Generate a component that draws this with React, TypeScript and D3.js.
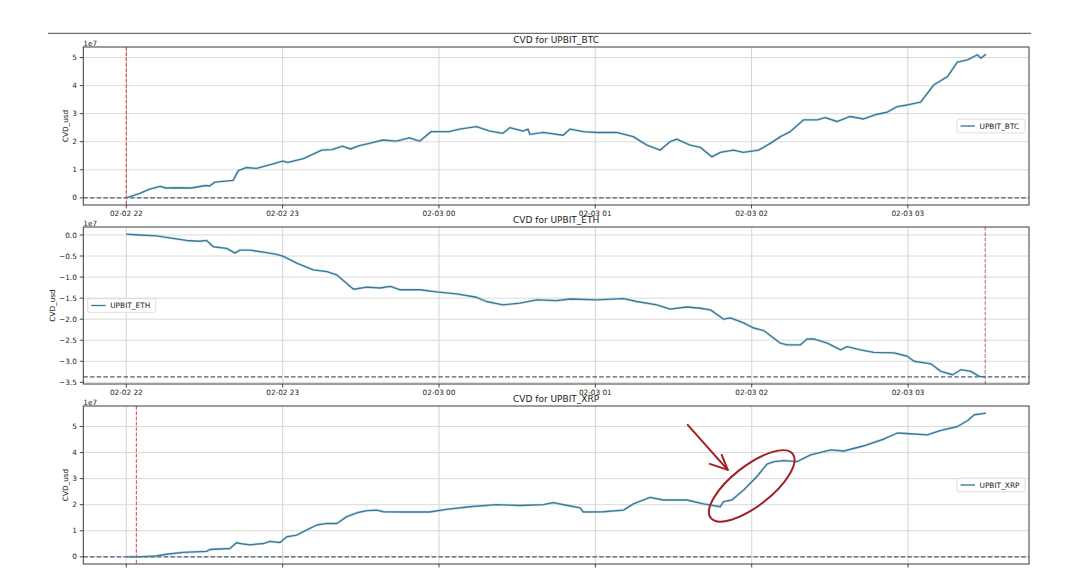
import { useEffect, useRef } from "react";
import * as d3 from "d3";

// CVD series, [minutes after 02-02 22:00, value in 1e7 usd]
const btcCvd: [number, number][] = [
  [0, 0], [5, 0.15], [8.7, 0.3], [13, 0.41], [15, 0.35], [20, 0.36], [25, 0.35], [30.5, 0.44],
  [32, 0.42], [34, 0.56], [41, 0.62], [43, 0.97], [46, 1.08], [50, 1.05], [56, 1.2], [60, 1.31],
  [62, 1.26], [68, 1.4], [71.5, 1.55], [75, 1.7], [79, 1.72], [83, 1.84], [86, 1.74], [89.5, 1.86],
  [93.3, 1.94], [98.5, 2.06], [103.6, 2.02], [108.7, 2.14], [112.6, 2.02], [117, 2.36], [124, 2.36],
  [128, 2.45], [134.4, 2.54], [139.5, 2.38], [144.6, 2.3], [147.2, 2.5], [152.3, 2.38], [154.2, 2.45],
  [154.9, 2.26], [160, 2.33], [167.7, 2.23], [170.3, 2.45], [175.4, 2.36], [180.5, 2.33], [188.2, 2.33],
  [194.6, 2.18], [199.8, 1.88], [204.9, 1.7], [208.7, 2.0], [211.3, 2.09], [216.4, 1.88], [220.3, 1.8],
  [224.8, 1.46], [228, 1.62], [233, 1.7], [236.9, 1.62], [242.7, 1.7], [247.2, 1.94], [251.1, 2.18],
  [254.9, 2.36], [260, 2.78], [265.2, 2.78], [268.3, 2.86], [272.8, 2.72], [277.9, 2.9], [283, 2.81],
  [288.2, 2.98], [292, 3.05], [295.9, 3.25], [299.8, 3.31], [304.9, 3.41], [310, 4.03], [315.2, 4.32],
  [319, 4.84], [322.9, 4.92], [326.7, 5.1], [328, 4.98], [330, 5.12],
];

const ethCvd: [number, number][] = [
  [0, 0.02], [5, 0], [11.5, -0.02], [17.9, -0.08], [23.1, -0.13], [28.2, -0.15], [30.8, -0.13],
  [33.4, -0.28], [38.5, -0.32], [41.7, -0.43], [43.6, -0.36], [47.5, -0.36], [53.9, -0.42],
  [57.7, -0.46], [60.3, -0.51], [65.4, -0.67], [71.8, -0.83], [77, -0.87], [80.8, -0.95],
  [87.2, -1.29], [92.3, -1.24], [97.4, -1.26], [101.3, -1.22], [104.9, -1.3], [112.6, -1.3],
  [119, -1.35], [126.7, -1.4], [134.4, -1.48], [138.2, -1.58], [144.6, -1.66], [151, -1.62],
  [157.5, -1.54], [165.1, -1.56], [170.3, -1.52], [180.5, -1.54], [190.8, -1.51], [195.9, -1.58],
  [203.6, -1.66], [208.7, -1.76], [215.1, -1.71], [220.3, -1.74], [224.2, -1.78], [229.2, -2.0],
  [231.8, -1.97], [236.9, -2.09], [240.8, -2.21], [244.6, -2.27], [251, -2.57], [253.6, -2.61],
  [258.7, -2.61], [261.2, -2.47], [263.8, -2.47], [269, -2.57], [274.1, -2.73], [276.6, -2.65],
  [281.8, -2.73], [286.9, -2.79], [294.6, -2.8], [299.7, -2.88], [302.3, -3.0], [308.7, -3.06],
  [312.6, -3.24], [317.1, -3.32], [320.3, -3.2], [324.1, -3.24], [327.3, -3.36], [329.9, -3.37],
];

const xrpCvd: [number, number][] = [
  [0, 0], [5, 0], [11.5, 0.03], [15.4, 0.1], [21.8, 0.17], [30.8, 0.21], [32, 0.28], [39.7, 0.32],
  [42.3, 0.54], [44.9, 0.49], [47.4, 0.46], [52.6, 0.51], [55.1, 0.59], [59, 0.55], [61.6, 0.77],
  [65.4, 0.83], [69.3, 1.03], [73.1, 1.22], [77, 1.28], [80.8, 1.28], [84.6, 1.54], [88.5, 1.69],
  [92.3, 1.77], [96.2, 1.79], [98.7, 1.73], [106.2, 1.72], [116.4, 1.72], [122.8, 1.82],
  [131.8, 1.92], [142, 2.0], [151, 1.97], [160, 2.0], [163.8, 2.08], [170.3, 1.95], [174.1, 1.88],
  [175.4, 1.72], [183.1, 1.73], [190.8, 1.79], [194.6, 2.03], [201, 2.28], [206.1, 2.18],
  [215.1, 2.18], [221.5, 2.03], [227.9, 1.92], [229.2, 2.12], [232.4, 2.18], [236.9, 2.56],
  [242, 3.08], [245.9, 3.56], [248.5, 3.65], [252.3, 3.69], [257.4, 3.65], [262.6, 3.91],
  [270.3, 4.1], [275.4, 4.06], [283.1, 4.26], [290.8, 4.52], [295.9, 4.75], [302.3, 4.71],
  [307.4, 4.68], [312.6, 4.85], [319, 5.0], [322.9, 5.23], [325.4, 5.45], [329.9, 5.51],
];

const seriesNames = ["UPBIT_BTC", "UPBIT_ETH", "UPBIT_XRP"];
const markerMinutes = [0, 329.6, 3.85];
const baseLevels = [0, -3.37, 0];
const yTickValues = [
  [0, 1, 2, 3, 4, 5],
  [0, -0.5, -1, -1.5, -2, -2.5, -3, -3.5],
  [0, 1, 2, 3, 4, 5],
];
const startTime = new Date(2024, 1, 2, 22, 0);

const FONT = "DejaVu Sans, sans-serif";
const LINE_COLOR = "#3b7997";

const App = () => {
  const svgRef = useRef<SVGSVGElement>(null);

  useEffect(() => {
    const svg = d3.select(svgRef.current);
    svg.selectAll("*").remove();

    const width = 1080,
      height = 568;
    const left = 83.3,
      right = 1029;
    const tops = [47, 227, 406];
    const bottoms = [205, 384, 564];
    const ylabelX = [65, 52.7, 65];
    const legendSide = ["right", "left", "right"];
    const yFmt = [d3.format("d"), (v: number) => d3.format(".1f")(v).replace("-", "\u2212"), d3.format("d")];
    const markerColor = ["#d62728", "#b0504c", "#d62728"];

    svg.append("rect").attr("width", width).attr("height", height).attr("fill", "#fff");

    // thin rule at the very top of the screenshot
    svg.append("line")
      .attr("x1", 48).attr("x2", 1031).attr("y1", 33.3).attr("y2", 33.3)
      .attr("stroke", "#6e6e6e").attr("stroke-width", 1.3);

    const toDate = (m: number) => new Date(startTime.getTime() + m * 60000);
    const allSeries = [btcCvd, ethCvd, xrpCvd];

    allSeries.forEach((data, i) => {
      const top = tops[i],
        bottom = bottoms[i];

      // matplotlib style 5% margins
      const [tMin, tMax] = d3.extent(data, (d) => d[0]) as [number, number];
      const tPad = (tMax - tMin) * 0.05;
      const x = d3.scaleTime()
        .domain([toDate(tMin - tPad), toDate(tMax + tPad)])
        .range([left, right]);

      const [vMin, vMax] = d3.extent(data, (d) => d[1]) as [number, number];
      const vPad = (vMax - vMin) * 0.05;
      const y = d3.scaleLinear().domain([vMin - vPad, vMax + vPad]).range([bottom, top]);

      const g = svg.append("g");
      const clipId = `clip-${i}`;
      g.append("clipPath").attr("id", clipId)
        .append("rect").attr("x", left).attr("y", top).attr("width", right - left).attr("height", bottom - top);

      // grid
      const hours = x.ticks(d3.timeHour.every(1)!);
      g.selectAll(".vgrid").data(hours).enter().append("line")
        .attr("x1", (d) => x(d)).attr("x2", (d) => x(d))
        .attr("y1", top).attr("y2", bottom)
        .attr("stroke", "#cfcfcf").attr("stroke-width", 0.9);
      g.selectAll(".hgrid").data(yTickValues[i]).enter().append("line")
        .attr("x1", left).attr("x2", right)
        .attr("y1", (d) => y(d)).attr("y2", (d) => y(d))
        .attr("stroke", "#d6d6d6").attr("stroke-width", 0.9);

      const plot = g.append("g").attr("clip-path", `url(#${clipId})`);

      // base level dashed line
      plot.append("line")
        .attr("x1", left).attr("x2", right)
        .attr("y1", y(baseLevels[i])).attr("y2", y(baseLevels[i]))
        .attr("stroke", "#4f5a78").attr("stroke-width", 1.2).attr("stroke-dasharray", "4.5,2.2");

      // vertical red marker
      plot.append("line")
        .attr("x1", x(toDate(markerMinutes[i]))).attr("x2", x(toDate(markerMinutes[i])))
        .attr("y1", top).attr("y2", bottom)
        .attr("stroke", markerColor[i]).attr("stroke-width", 0.9).attr("stroke-dasharray", "3.7,1.6");

      const line = d3.line<[number, number]>()
        .x((d) => x(toDate(d[0])))
        .y((d) => y(d[1]));
      // faint halo like the blurred screenshot, then the line itself
      plot.append("path").datum(data)
        .attr("d", line)
        .attr("fill", "none")
        .attr("stroke", "#9cc6da")
        .attr("stroke-opacity", 0.5)
        .attr("stroke-width", 2.6)
        .attr("stroke-linejoin", "round");
      plot.append("path").datum(data)
        .attr("d", line)
        .attr("fill", "none")
        .attr("stroke", LINE_COLOR)
        .attr("stroke-width", 1.35)
        .attr("stroke-linejoin", "round");

      // frame
      g.append("rect")
        .attr("x", left).attr("y", top).attr("width", right - left).attr("height", bottom - top)
        .attr("fill", "none").attr("stroke", "#3a3a3a").attr("stroke-width", 1);

      // x ticks (labels of the last panel fall below the picture)
      g.selectAll(".xtick").data(hours).enter().append("line")
        .attr("x1", (d) => x(d)).attr("x2", (d) => x(d))
        .attr("y1", bottom).attr("y2", bottom + 3.5)
        .attr("stroke", "#333").attr("stroke-width", 0.9);
      if (bottom + 11 < height) {
        g.selectAll(".xlabel").data(hours).enter().append("text")
          .attr("x", (d) => x(d)).attr("y", bottom + 11)
          .attr("text-anchor", "middle")
          .attr("font-family", FONT).attr("font-size", 7.3).attr("fill", "#222")
          .text((d) => d3.timeFormat("%m-%d %H")(d));
      }

      // y ticks
      g.selectAll(".ytick").data(yTickValues[i]).enter().append("line")
        .attr("x1", left - 3.5).attr("x2", left)
        .attr("y1", (d) => y(d)).attr("y2", (d) => y(d))
        .attr("stroke", "#333").attr("stroke-width", 0.9);
      g.selectAll(".ylabel").data(yTickValues[i]).enter().append("text")
        .attr("x", left - 6.5).attr("y", (d) => y(d))
        .attr("dy", "0.35em")
        .attr("text-anchor", "end")
        .attr("font-family", FONT).attr("font-size", 7.3).attr("fill", "#222")
        .text((d) => yFmt[i](d));

      g.append("text")
        .attr("x", left).attr("y", top - 1.5)
        .attr("font-family", FONT).attr("font-size", 7.3).attr("fill", "#222")
        .text("1e7");

      g.append("text")
        .attr("transform", `translate(${ylabelX[i]}, ${(top + bottom) / 2}) rotate(-90)`)
        .attr("text-anchor", "middle")
        .attr("dy", "0.35em")
        .attr("font-family", FONT).attr("font-size", 7.3).attr("fill", "#222")
        .text("CVD_usd");

      // title
      g.append("text")
        .attr("x", (left + right) / 2).attr("y", top - 4)
        .attr("text-anchor", "middle")
        .attr("font-family", FONT).attr("font-size", 9).attr("fill", "#222")
        .text(`CVD for ${seriesNames[i]}`);

      // legend
      const lw = 68, lh = 13.7;
      const lx = legendSide[i] === "right" ? right - 4 - lw : left + 4.4;
      const ly = (top + bottom) / 2 - lh / 2;
      const leg = g.append("g").attr("transform", `translate(${lx}, ${ly})`);
      leg.append("rect")
        .attr("width", lw).attr("height", lh).attr("rx", 2)
        .attr("fill", "#fff").attr("fill-opacity", 0.85)
        .attr("stroke", "#d4d4d4").attr("stroke-width", 0.8);
      leg.append("line")
        .attr("x1", 3.5).attr("x2", 18).attr("y1", lh / 2).attr("y2", lh / 2)
        .attr("stroke", LINE_COLOR).attr("stroke-width", 1.35);
      leg.append("text")
        .attr("x", 22.5).attr("y", lh / 2).attr("dy", "0.35em")
        .attr("font-family", FONT).attr("font-size", 7.4).attr("fill", "#222")
        .text(seriesNames[i]);

      // hand-drawn annotation on the XRP panel
      if (i === 2) {
        const cx = x(toDate(240)),
          cy = y(2.72);
        const note = svg.append("g")
          .attr("fill", "none").attr("stroke", "#a21f23").attr("stroke-width", 2)
          .attr("stroke-linecap", "round").attr("stroke-linejoin", "round");
        note.append("ellipse")
          .attr("cx", 0).attr("cy", 0).attr("rx", 52).attr("ry", 20)
          .attr("transform", `translate(${cx}, ${cy}) rotate(-38)`);
        note.append("line")
          .attr("x1", cx - 64).attr("y1", cy - 61)
          .attr("x2", cx - 24).attr("y2", cy - 16);
        note.append("path")
          .attr("d", `M${cx - 42},${cy - 22} L${cx - 24},${cy - 16} L${cx - 30},${cy - 31}`);
      }
    });
  }, []);

  return (
    <div style={{ position: "absolute", left: 0, top: 0 }}>
      <svg ref={svgRef} width={1080} height={568} style={{ display: "block" }}></svg>
    </div>
  );
};

export default App;
